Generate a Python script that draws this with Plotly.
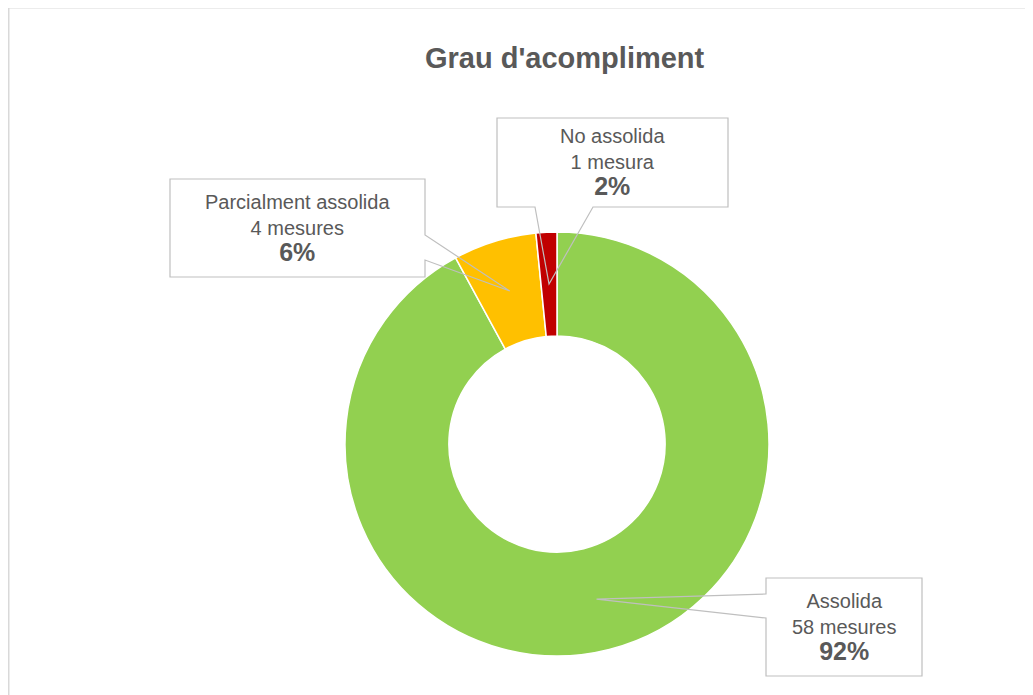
import math
import plotly.graph_objects as go

# data
labels = ["Assolida", "Parcialment assolida", "No assolida"]
counts = [58, 4, 1]
units = ["mesures", "mesures", "mesura"]
colors = ["#92D050", "#FFC000", "#C00000"]

W, H = 1033, 695
OFF = 8  # page body margin shifts the figure by this many pixels
CX, CY, R_OUT = 557, 444, 212
HOLE = 0.51

# callout boxes in pixels: (x0, y0, x1, y1), wedge side and wedge base span
boxes = [
    ((766, 578, 922, 676), "left", (594, 618)),
    ((170, 179, 425, 277), "right", (235, 260)),
    ((497, 118, 728, 207), "bottom", (535, 593)),
]


def px(x):
    return (x - OFF) / W


def py(y):
    return 1 - (y - OFF) / H


fig = go.Figure(go.Pie(
    labels=labels, values=counts, sort=False, direction="clockwise", rotation=0,
    hole=HOLE, textinfo="none", showlegend=False,
    marker=dict(colors=colors, line=dict(color="white", width=1.5)),
    domain=dict(x=[px(CX - R_OUT), px(CX + R_OUT)], y=[py(CY + R_OUT), py(CY - R_OUT)]),
))

total = sum(counts)
r_mid = R_OUT * (1 + HOLE) / 2
cum = 0
shapes = []
annotations = []
for lab, n, unit, (box, side, span) in zip(labels, counts, units, boxes):
    # tip of the callout sits at the middle of the ring, at the slice's mid angle
    ang = (cum + n / 2) / total * 2 * math.pi
    cum += n
    tx, ty = CX + r_mid * math.sin(ang), CY - r_mid * math.cos(ang)
    x0, y0, x1, y1 = box
    if side == "left":
        pts = [(x0, y0), (x1, y0), (x1, y1), (x0, y1), (x0, span[1]), (tx, ty), (x0, span[0])]
    elif side == "right":
        pts = [(x0, y0), (x1, y0), (x1, span[0]), (tx, ty), (x1, span[1]), (x1, y1), (x0, y1)]
    else:
        pts = [(x0, y0), (x1, y0), (x1, y1), (span[1], y1), (tx, ty), (span[0], y1), (x0, y1)]
    path = "M " + " L ".join(f"{px(a):.5f},{py(b):.5f}" for a, b in pts) + " Z"
    shapes.append(dict(type="path", path=path, xref="paper", yref="paper",
                       line=dict(color="#BFBFBF", width=1.2), fillcolor="rgba(0,0,0,0)"))
    pct = round(n / total * 100)
    annotations.append(dict(
        x=px((x0 + x1) / 2), y=py((y0 + y1) / 2), xref="paper", yref="paper",
        xanchor="center", yanchor="middle", showarrow=False, align="center",
        text=f"{lab}<br>{n} {unit}<br><span style='font-size:25px'><b>{pct}%</b></span>",
        font=dict(family="Liberation Sans, Arial", size=20, color="#595959"),
    ))

# chart frame (top and left edges visible)
shapes.append(dict(type="line", xref="paper", yref="paper", x0=px(8), x1=1.02,
                   y0=py(7.5), y1=py(7.5), line=dict(color="#D9D9D9", width=2)))
shapes.append(dict(type="line", xref="paper", yref="paper", x0=px(8.5), x1=px(8.5),
                   y0=py(7), y1=-0.02, line=dict(color="#D9D9D9", width=2)))

annotations.append(dict(
    x=px(565), y=py(58), xref="paper", yref="paper", xanchor="center", yanchor="middle",
    showarrow=False, text="<b>Grau d'acompliment</b>",
    font=dict(family="Liberation Sans, Arial", size=29, color="#595959"),
))

fig.update_layout(
    width=W, height=H, margin=dict(l=0, r=0, t=0, b=0),
    paper_bgcolor="white", plot_bgcolor="white",
    shapes=shapes, annotations=annotations,
)

fig.write_html("out.html")
